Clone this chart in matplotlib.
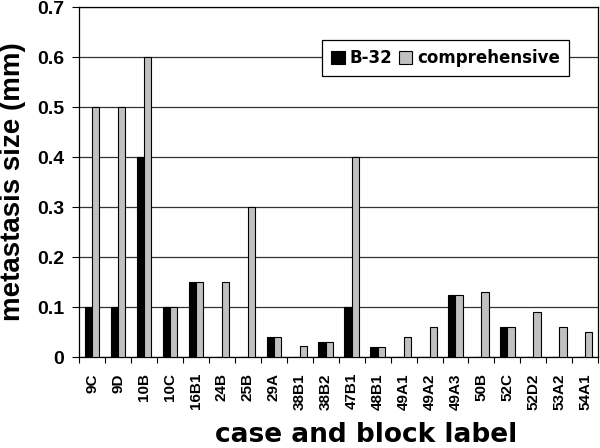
import numpy as np
import matplotlib
matplotlib.use("Agg")
import matplotlib.pyplot as plt
from matplotlib.ticker import FixedLocator, MultipleLocator

labels = ["9C", "9D", "10B", "10C", "16B1", "24B", "25B", "29A", "38B1", "38B2",
          "47B1", "48B1", "49A1", "49A2", "49A3", "50B", "52C", "52D2", "53A2", "54A1"]
b32 = [0.1, 0.1, 0.4, 0.1, 0.15, 0, 0, 0.04, 0, 0.03,
       0.1, 0.02, 0, 0, 0.125, 0, 0.06, 0, 0, 0]
comprehensive = [0.5, 0.5, 0.6, 0.1, 0.15, 0.15, 0.3, 0.04, 0.022, 0.03,
                 0.4, 0.02, 0.04, 0.06, 0.125, 0.13, 0.06, 0.09, 0.06, 0.05]

ARIAL = dict(family="Liberation Sans", weight="bold")
WIDE = dict(family="DejaVu Sans", weight="bold")

fig = plt.figure(figsize=(6, 4.48), dpi=100)
ax = fig.add_axes([0.132, 0.203, 0.865, 0.781])

x = np.arange(len(labels))
w = 0.28
ax.bar(x - w / 2, b32, w, color="black", edgecolor="black", linewidth=0.8,
       label="B-32", zorder=3)
ax.bar(x + w / 2, comprehensive, w, color="#c0c0c0", edgecolor="black",
       linewidth=0.8, label="comprehensive", zorder=3)

ax.set_xlim(-0.5, len(labels) - 0.5)
ax.set_ylim(0, 0.7)
ax.yaxis.set_major_locator(MultipleLocator(0.1))
ax.grid(axis="y", color="#333333", linewidth=0.9, zorder=0)

# labels in the middle, tick marks on the category boundaries
ax.set_xticks(x)
ax.set_xticklabels(labels, rotation=90, fontsize=11, **ARIAL)
ax.xaxis.set_minor_locator(FixedLocator(np.arange(-0.5, len(labels), 1.0)))
ax.tick_params(axis="x", which="major", length=0, pad=11.5)
ax.tick_params(axis="x", which="minor", length=4, width=0.8)
ax.tick_params(axis="y", length=5, width=0.8, pad=6)

ax.set_yticks(np.arange(0, 0.71, 0.1))
ax.set_yticklabels(["0"] + ["%.1f" % v for v in np.arange(0.1, 0.71, 0.1)],
                   fontsize=14, **ARIAL)

for s in ax.spines.values():
    s.set_linewidth(0.9)

ax.set_ylabel("metastasis size (mm)", fontsize=20, **ARIAL)
ax.yaxis.set_label_coords(-0.102, 0.5)
ax.set_xlabel("case and block label", fontsize=19, **WIDE)
ax.xaxis.label.set_va("baseline")
ax.xaxis.set_label_coords(0.553, -0.243)

leg = ax.legend(loc="upper left", bbox_to_anchor=(0.468, 0.906), ncol=2,
                prop=dict(family="DejaVu Sans", weight="bold", size=12),
                frameon=True, fancybox=False, framealpha=1, edgecolor="black",
                handlelength=0.8, handleheight=0.85, handletextpad=0.3,
                columnspacing=0.4, borderpad=0.55, borderaxespad=0)
leg.get_frame().set_linewidth(0.9)

fig.savefig("out.png", dpi=100)
